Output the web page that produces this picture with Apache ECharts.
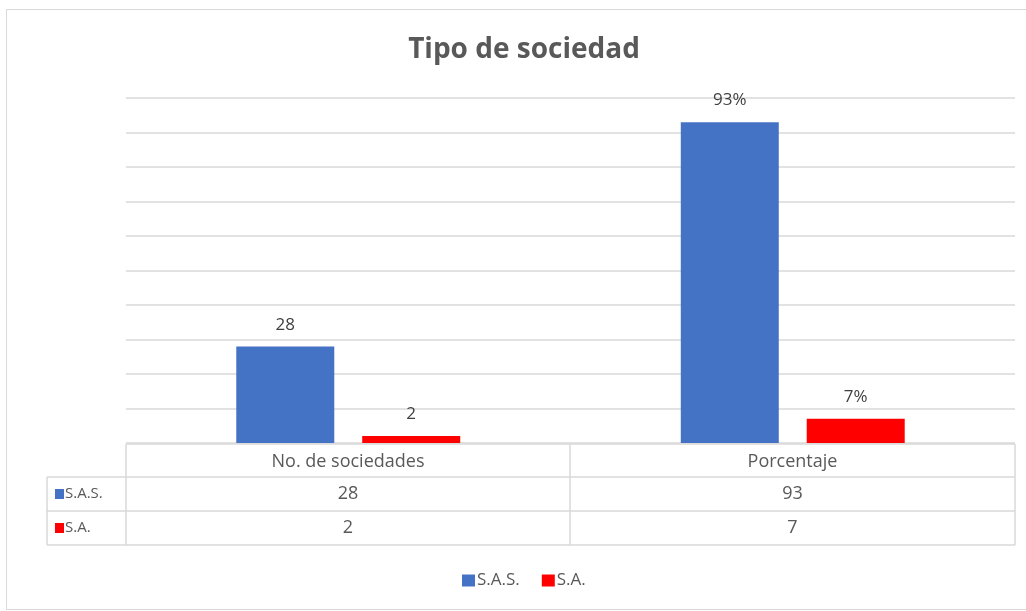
<!DOCTYPE html>
<html>
<head>
<meta charset="utf-8">
<script src="https://cdn.jsdelivr.net/npm/echarts@6/dist/echarts.min.js"></script>
<style>
  html, body { margin: 0; padding: 0; background: #fff; }
  #chart { width: 1026px; height: 611px; }
</style>
</head>
<body>
<div id="chart"></div>
<script>
const categories = ["No. de sociedades", "Porcentaje"];
const seriesNames = ["S.A.S.", "S.A."];
const sasValues = [28, 93];
const saValues = [2, 7];
const labelSuffix = ["", "%"];
const colors = ["#4472C4", "#FF0000"];

const FONT = "'Open Sans', 'Noto Sans', sans-serif";
const GRID = { left: 126, right: 11, top: 98, bottom: 168 };
const LINE = "#d9d9d9";

// data table under the plot
function buildTable() {
  const x0 = 47, x1 = 126, x2 = 570, x3 = 1015;
  const rows = [444, 477, 511, 545];
  const els = [];
  const line = (ax, ay, bx, by) => els.push({
    type: "line", shape: { x1: ax, y1: ay, x2: bx, y2: by },
    style: { stroke: LINE, lineWidth: 1.5 }, silent: true
  });
  const text = (t, x, y) => els.push({
    type: "text", x: x, y: y,
    style: { text: t, fill: "#595959", font: "18px " + FONT, align: "center", verticalAlign: "middle" },
    silent: true
  });
  // horizontal lines
  line(x1, rows[0], x3, rows[0]);
  line(x0, rows[1], x3, rows[1]);
  line(x0, rows[2], x3, rows[2]);
  line(x0, rows[3], x3, rows[3]);
  // vertical lines
  line(x0, rows[1], x0, rows[3]);
  line(x1, rows[0], x1, rows[3]);
  line(x2, rows[0], x2, rows[3]);
  line(x3, rows[0], x3, rows[3]);
  const cx = [(x1 + x2) / 2, (x2 + x3) / 2];
  categories.forEach((c, i) => text(c, cx[i], (rows[0] + rows[1]) / 2 + 1));
  const rowVals = [sasValues, saValues];
  rowVals.forEach((vals, r) => {
    const cy = (rows[r + 1] + rows[r + 2]) / 2;
    els.push({
      type: "rect", shape: { x: 55, y: cy - 5, width: 9, height: 10 },
      style: { fill: colors[r] }, silent: true
    });
    els.push({
      type: "text", x: 65, y: cy,
      style: { text: seriesNames[r], fill: "#595959", font: "15px " + FONT, align: "left", verticalAlign: "middle" },
      silent: true
    });
    vals.forEach((v, i) => text(String(v), cx[i], cy));
  });
  // outer chart border
  els.push({
    type: "rect", shape: { x: 6.5, y: 9.5, width: 1030, height: 600 },
    style: { fill: "none", stroke: LINE, lineWidth: 1 }, silent: true, z: -1
  });
  return els;
}

function makeSeries(name, values, color) {
  return {
    name: name,
    type: "bar",
    data: values,
    barWidth: 98,
    barGap: "28.5%",
    itemStyle: { color: color },
    label: {
      show: true,
      position: "top",
      distance: 13,
      color: "#404040",
      fontFamily: FONT,
      fontSize: 17,
      formatter: p => p.value + labelSuffix[p.dataIndex]
    }
  };
}

const chart = echarts.init(document.getElementById("chart"));
chart.setOption({
  animation: false,
  backgroundColor: "#fff",
  title: {
    text: "Tipo de sociedad",
    left: 519,
    textAlign: "center",
    top: 31,
    textStyle: { fontFamily: FONT, fontSize: 28, fontWeight: "bold", color: "#595959" }
  },
  legend: {
    data: seriesNames,
    left: 457,
    top: 567,
    icon: "rect",
    itemWidth: 13,
    itemHeight: 12,
    itemGap: 22,
    textStyle: { fontFamily: FONT, fontSize: 17, color: "#595959", padding: [0, 0, 0, -3] }
  },
  grid: GRID,
  xAxis: {
    type: "category",
    data: categories,
    axisLine: { show: false },
    axisTick: { show: false },
    axisLabel: { show: false }
  },
  yAxis: {
    type: "value",
    min: 0,
    max: 100,
    interval: 10,
    axisLabel: { show: false },
    axisLine: { show: false },
    axisTick: { show: false },
    splitLine: { lineStyle: { color: LINE, width: 1.5 } }
  },
  series: [
    makeSeries(seriesNames[0], sasValues, colors[0]),
    makeSeries(seriesNames[1], saValues, colors[1])
  ],
  graphic: { elements: buildTable() }
});
</script>
</body>
</html>
